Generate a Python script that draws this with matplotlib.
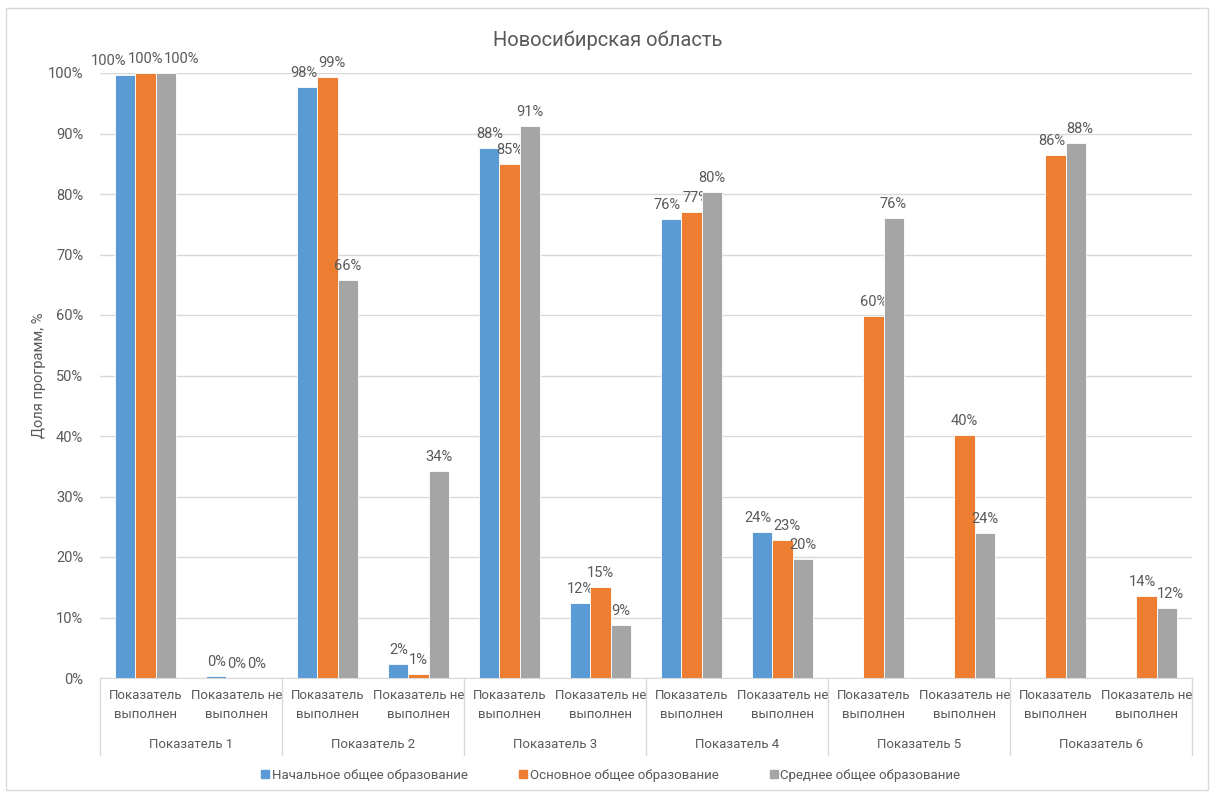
import numpy as np
import matplotlib
matplotlib.use("Agg")
import matplotlib.pyplot as plt
from matplotlib.patches import Rectangle
from matplotlib.lines import Line2D

plt.rcParams['font.family'] = ['Roboto', 'DejaVu Sans']

title = "Новосибирская область"
ylabel = "Доля программ, %"
groups = ["Показатель 1", "Показатель 2", "Показатель 3", "Показатель 4", "Показатель 5", "Показатель 6"]
subcats = ["Показатель\nвыполнен", "Показатель не\nвыполнен"]
series = ["Начальное общее образование", "Основное общее образование", "Среднее общее образование"]

nachalnoe = [99.7, 0.3, 97.7, 2.3, 87.6, 12.4, 75.9, 24.1, np.nan, np.nan, np.nan, np.nan]
osnovnoe = [100.0, 0.0, 99.3, 0.6, 85.0, 15.0, 77.0, 22.8, 59.8, 40.2, 86.4, 13.6]
srednee = [100.0, 0.0, 65.8, 34.2, 91.2, 8.8, 80.3, 19.7, 76.0, 24.0, 88.4, 11.6]

colors = ["#5B9BD5", "#ED7D31", "#A5A5A5"]
text_color = "#595959"
grid_color = "#D9D9D9"

W, H = 1216, 792
fig = plt.figure(figsize=(W / 100, H / 100), dpi=100)
fig.patches.append(Rectangle((6 / W, 2 / H), 1202 / W, (H - 10) / H, transform=fig.transFigure,
                             fill=False, edgecolor="#D9D9D9", linewidth=1))

left, right, top, bottom = 100, 1192, 73, 678
ax = fig.add_axes([left / W, (H - bottom) / H, (right - left) / W, (bottom - top) / H])

n = len(groups) * len(subcats)
x = np.arange(n)
bw = 0.22
data = [nachalnoe, osnovnoe, srednee]
labels_by_cat = [[] for _ in range(n)]
for i, (vals, c) in enumerate(zip(data, colors)):
    vals = np.array(vals, dtype=float)
    pos = x + (i - 1) * bw
    ax.bar(pos, np.nan_to_num(vals), width=bw, color=c, label=series[i], zorder=3,
           edgecolor="white", linewidth=0.6)
    for k, (p, v) in enumerate(zip(pos, vals)):
        if np.isnan(v):
            continue
        ann = ax.annotate(f"{v:.0f}%", (p, v), xytext=(0, 5), textcoords="offset points",
                          ha="center", va="bottom", fontsize=10.5, color=text_color)
        labels_by_cat[k].append(ann)

ax.set_xlim(-0.5, n - 0.5)
ax.set_ylim(0, 100)
ax.set_yticks(np.arange(0, 101, 10))
ax.set_yticklabels([f"{v}%" for v in range(0, 101, 10)])
ax.yaxis.grid(True, color=grid_color, linewidth=1, zorder=0)
ax.set_axisbelow(True)
for s in ["left", "right", "top"]:
    ax.spines[s].set_visible(False)
ax.spines["bottom"].set_color(grid_color)
ax.tick_params(axis="y", length=0, pad=12, labelsize=10.5, labelcolor=text_color)
ax.set_xticks(x)
ax.set_xticklabels(subcats * len(groups), linespacing=1.6)
ax.tick_params(axis="x", length=0, pad=8, labelsize=9.5, labelcolor=text_color)

ax_h = bottom - top
for g in range(len(groups) + 1):
    xb = g * 2 - 0.5
    ax.plot([xb, xb], [0, -(755 - 678) / ax_h], transform=ax.get_xaxis_transform(),
            color=grid_color, linewidth=1, clip_on=False)
for g, name in enumerate(groups):
    ax.text(g * 2 + 0.5, -(745 - 678) / ax_h, name, transform=ax.get_xaxis_transform(),
            ha="center", va="center", fontsize=9.5, color=text_color)

ax.set_ylabel(ylabel, fontsize=10.5, color=text_color, labelpad=1)
fig.text(608 / W, 1 - 40 / H, title, ha="center", va="center", fontsize=14.5, color=text_color)

handles = [Line2D([], [], marker="s", linestyle="none", markersize=6, color=c) for c in colors]
fig.legend(handles, series, loc="center", bbox_to_anchor=(610 / W, 1 - 775 / H), ncol=3,
           frameon=False, fontsize=9.5, labelcolor=text_color, handletextpad=0.1,
           columnspacing=3.8, handlelength=0.8)

# resolve overlapping data labels horizontally within each category
fig.canvas.draw()
renderer = fig.canvas.get_renderer()
px2pt = 72.0 / fig.dpi
for anns in labels_by_cat:
    for _ in range(10):
        moved = False
        for a, b in zip(anns[:-1], anns[1:]):
            ba = a.get_window_extent(renderer)
            bb = b.get_window_extent(renderer)
            ov_x = ba.x1 + 1 - bb.x0
            ov_y = min(ba.y1, bb.y1) - max(ba.y0, bb.y0)
            if ov_x > 0 and ov_y > 0:
                ax_, ay_ = a.xyann
                bx_, by_ = b.xyann
                a.xyann = (ax_ - ov_x / 2 * px2pt, ay_)
                b.xyann = (bx_ + ov_x / 2 * px2pt, by_)
                moved = True
        if not moved:
            break

fig.savefig("out.png", dpi=100)
